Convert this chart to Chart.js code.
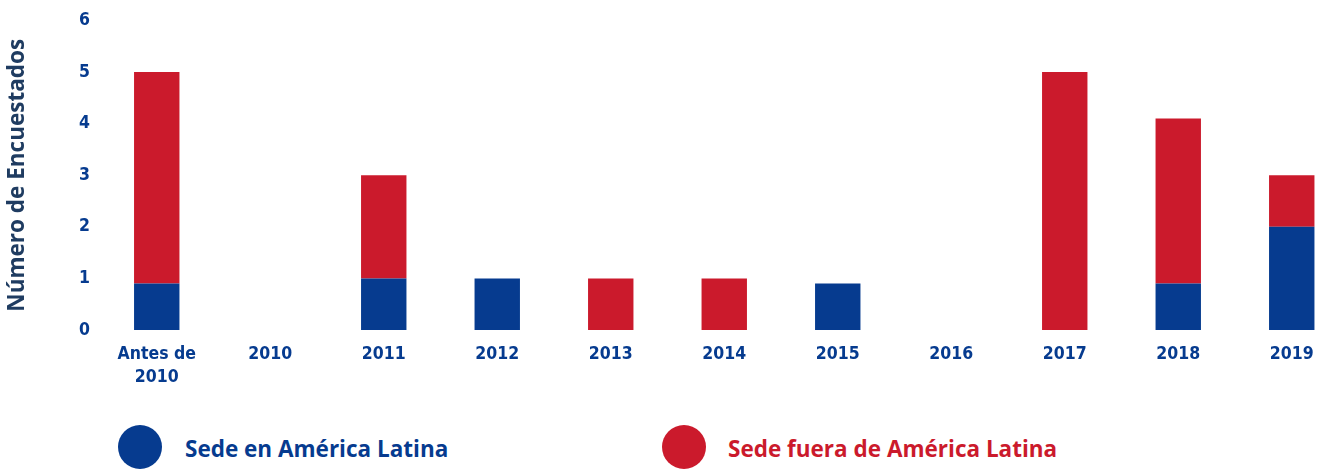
<!DOCTYPE html>
<html>
<head>
<meta charset="utf-8">
<script src="https://cdn.jsdelivr.net/npm/chart.js@4/dist/chart.umd.min.js"></script>
<style>
  html, body { margin: 0; padding: 0; background: #fff; overflow: hidden; }
  #wrap { position: relative; width: 1350px; height: 400px; }
  .legend { position: absolute; top: 425px; font-family: "Open Sans", sans-serif; font-weight: 700; font-size: 22.5px; }
  .legend span.dot { position: absolute; top: 0; width: 44px; height: 44px; border-radius: 50%; }
  .legend span.txt { position: absolute; top: 8px; white-space: nowrap; }
</style>
</head>
<body>
<div id="wrap"><canvas id="grafico" width="1350" height="400"></canvas></div>
<div class="legend" style="left:118px"><span class="dot" style="left:0;background:#063b8f"></span><span class="txt" style="left:67px;color:#063b8f">Sede en América Latina</span></div>
<div class="legend" style="left:662px"><span class="dot" style="left:0;background:#cb1a2c"></span><span class="txt" style="left:66px;color:#cb1a2c">Sede fuera de América Latina</span></div>
<script>
// datos
const categorias = [["Antes de", "2010"], "2010", "2011", "2012", "2013", "2014", "2015", "2016", "2017", "2018", "2019"];
const sedeAmerica = [0.9, 0, 1, 1, 0, 0, 0.9, 0, 0, 0.9, 2];
const sedeFuera = [4.1, 0, 2, 0, 1, 1, 0, 0, 5, 3.2, 1];

const azul = '#063b8f';
const rojo = '#cb1a2c';
const fuenteTicks = '"DejaVu Sans Condensed", "Open Sans", sans-serif';

const ctx = document.getElementById('grafico').getContext('2d');
new Chart(ctx, {
  type: 'bar',
  data: {
    labels: categorias,
    datasets: [
      { label: 'Sede en América Latina', data: sedeAmerica, backgroundColor: azul, barPercentage: 0.4, categoryPercentage: 1 },
      { label: 'Sede fuera de América Latina', data: sedeFuera, backgroundColor: rojo, barPercentage: 0.4, categoryPercentage: 1 }
    ]
  },
  options: {
    responsive: false,
    animation: false,
    layout: { padding: { top: 18, right: 1.5, bottom: 0, left: 0 } },
    plugins: { legend: { display: false }, tooltip: { enabled: false } },
    scales: {
      x: {
        stacked: true,
        grid: { display: false, drawTicks: false },
        border: { display: false },
        ticks: {
          color: azul, padding: 13, maxRotation: 0, autoSkip: false,
          font: { family: fuenteTicks, weight: 'bold', size: 17.5, lineHeight: 1.3 }
        },
        afterFit: s => { s.height = 70; }
      },
      y: {
        stacked: true,
        min: 0, max: 6,
        grid: { display: false, drawTicks: false },
        border: { display: false },
        ticks: {
          stepSize: 1, color: azul, padding: 10,
          font: { family: fuenteTicks, weight: 'bold', size: 17.5 }
        },
        title: {
          display: true, text: 'Número de Encuestados', color: '#1f3c61',
          padding: { top: 4, bottom: 0 },
          font: { family: '"Open Sans", sans-serif', weight: 'bold', size: 22.5 }
        },
        afterFit: s => { s.width = 100; }
      }
    }
  }
});
</script>
</body>
</html>
